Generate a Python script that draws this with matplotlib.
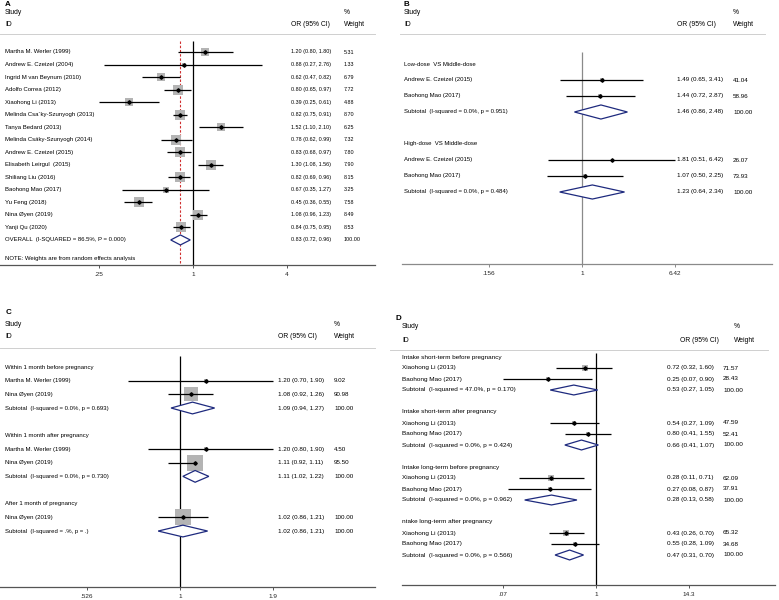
import numpy as np
import matplotlib
matplotlib.use("Agg")
import matplotlib.pyplot as plt
from matplotlib import transforms, ticker
from matplotlib.lines import Line2D

# ------------- data -----------------

# A: overall
a_study = ["Martha M. Werler (1999)", "Andrew E. Czeizel (2004)", "Ingrid M van Beynum (2010)",
           "Adolfo Correa (2012)", "Xiaohong Li (2013)", "Melinda Csa\u00b4ky-Szunyogh (2013)",
           "Tanya Bedard (2013)", "Melinda Cs\u00e1ky-Szunyogh (2014)", "Andrew E. Czeizel (2015)",
           "Elisabeth Leirgul  (2015)", "Shiliang Liu (2016)", "Baohong Mao (2017)",
           "Yu Feng (2018)", "Nina \u00d8yen (2019)", "Yanji Qu (2020)"]
a_or = [1.20, 0.88, 0.62, 0.80, 0.39, 0.82, 1.52, 0.78, 0.83, 1.30, 0.82, 0.67, 0.45, 1.08, 0.84]
a_lo = [0.80, 0.27, 0.47, 0.65, 0.25, 0.75, 1.10, 0.62, 0.68, 1.08, 0.69, 0.35, 0.36, 0.96, 0.75]
a_hi = [1.80, 2.76, 0.82, 0.97, 0.61, 0.91, 2.10, 0.99, 0.97, 1.56, 0.96, 1.27, 0.55, 1.23, 0.95]
a_wt = [5.31, 1.33, 6.79, 7.72, 4.88, 8.70, 6.25, 7.32, 7.80, 7.90, 8.15, 3.25, 7.58, 8.49, 8.53]
a_overall_label = "OVERALL  (I-SQUARED = 86.5%, P = 0.000)"
a_overall = (0.83, 0.72, 0.96)
a_note = "NOTE: Weights are from random effects analysis"
a_ticks = [0.25, 1, 4]
a_ticklabels = [".25", "1", "4"]

# B: dose
b_groups = ["Low-dose  VS Middle-dose", "High-dose  VS Middle-dose"]
b_study = ["Andrew E. Czeizel (2015)", "Baohong Mao (2017)",
           "Andrew E. Czeizel (2015)", "Baohong Mao (2017)"]
b_group_of = [0, 0, 1, 1]
b_or = [1.49, 1.44, 1.81, 1.07]
b_lo = [0.65, 0.72, 0.51, 0.50]
b_hi = [3.41, 2.87, 6.42, 2.25]
b_wt = [41.04, 58.96, 26.07, 73.93]
b_sub_het = ["(I-squared = 0.0%, p = 0.951)", "(I-squared = 0.0%, p = 0.484)"]
b_sub_or = [1.46, 1.23]
b_sub_lo = [0.86, 0.64]
b_sub_hi = [2.48, 2.34]
b_ticks = [0.156, 1, 6.42]
b_ticklabels = [".156", "1", "6.42"]

# C: timing
c_groups = ["Within 1 month before pregnancy", "Within 1 month after pregnancy",
            "After 1 month of pregnancy"]
c_study = ["Martha M. Werler (1999)", "Nina \u00d8yen (2019)", "Martha M. Werler (1999)",
           "Nina \u00d8yen (2019)", "Nina \u00d8yen (2019)"]
c_group_of = [0, 0, 1, 1, 2]
c_or = [1.20, 1.08, 1.20, 1.11, 1.02]
c_lo = [0.70, 0.92, 0.80, 0.92, 0.86]
c_hi = [1.90, 1.26, 1.90, 1.11, 1.21]
c_wt = [9.02, 90.98, 4.50, 95.50, 100.00]
c_sub_het = ["(I-squared = 0.0%, p = 0.693)", "(I-squared = 0.0%, p = 0.730)",
             "(I-squared = .%, p = .)"]
c_sub_or = [1.09, 1.11, 1.02]
c_sub_lo = [0.94, 1.02, 0.86]
c_sub_hi = [1.27, 1.22, 1.21]
c_ticks = [0.526, 1, 1.9]
c_ticklabels = [".526", "1", "1.9"]

# D: intake
d_groups = ["Intake short-term before pregnancy", "Intake short-term after pregnancy",
            "Intake long-term before pregnancy", "ntake long-term after pregnancy"]
d_study = ["Xiaohong Li (2013)", "Baohong Mao (2017)"] * 4
d_group_of = [0, 0, 1, 1, 2, 2, 3, 3]
d_or = [0.72, 0.25, 0.54, 0.80, 0.28, 0.27, 0.43, 0.55]
d_lo = [0.32, 0.07, 0.27, 0.41, 0.11, 0.08, 0.26, 0.28]
d_hi = [1.60, 0.90, 1.09, 1.55, 0.71, 0.87, 0.70, 1.09]
d_wt = [71.57, 28.43, 47.59, 52.41, 62.09, 37.91, 65.32, 34.68]
d_sub_het = ["(I-squared = 47.0%, p = 0.170)", "(I-squared = 0.0%, p = 0.424)",
             "(I-squared = 0.0%, p = 0.962)", "(I-squared = 0.0%, p = 0.566)"]
d_sub_or = [0.53, 0.66, 0.28, 0.47]
d_sub_lo = [0.27, 0.41, 0.13, 0.31]
d_sub_hi = [1.05, 1.07, 0.58, 0.70]
d_ticks = [0.07, 1, 14.3]
d_ticklabels = [".07", "1", "14.3"]

# ------------- style -----------------

W, H = 779, 600
BOX = "#b4b4b4"
NAVY = "#1e2a7e"
SEP = "#cfcfcf"

plt.rcParams['font.family'] = ['Liberation Sans', 'DejaVu Sans']


def fx(px):
    return px / W


def fy(py):
    return 1 - py / H


def ci_text(o, l, h):
    return f"{o:.2f} ({l:.2f}, {h:.2f})"


def make_axes(fig, L):
    ax = fig.add_axes([fx(L["x0"]), fy(L["yaxis"]), (L["x1"] - L["x0"]) / W,
                       (L["yaxis"] - L["ysep"]) / H])
    ax.set_xscale("log")
    ax.set_xlim(np.exp((L["x0"] - L["xc"]) / L["ppl"]), np.exp((L["x1"] - L["xc"]) / L["ppl"]))
    ax.set_ylim((L["yaxis"] - L["y0"]) / L["dy"], (L["ysep"] - L["y0"]) / L["dy"])
    for s in ["top", "left", "right"]:
        ax.spines[s].set_visible(False)
    ax.spines["bottom"].set_color(L["axcol"])
    ax.spines["bottom"].set_linewidth(0.9)
    ax.set_yticks([])
    ax.patch.set_alpha(0)
    ax.xaxis.set_minor_locator(ticker.NullLocator())
    ax.tick_params(axis="x", direction="out", length=2.2, width=0.7, color=L["axcol"],
                   labelsize=4.6, pad=3.2, labelcolor="#222222")
    # reference line at OR = 1
    rtop = (L["yvtop"] - L["y0"]) / L["dy"]
    ax.vlines(1, rtop, ax.get_ylim()[0], color=L["refcol"], lw=0.9, zorder=1)
    return ax


def headers(fig, L, letter):
    x, xo, xw = L["xlab"], L["xor_h"], L["xw_h"]
    fig.text(fx(L["xletter"]), fy(L["yletter"]), letter, fontsize=5.8, fontweight="bold", va="center")
    fig.text(fx(x), fy(L["ystudy"]), "Study", fontsize=4.9, va="center")
    fig.text(fx(x), fy(L["yid"]), "ID", fontsize=4.9, va="center")
    fig.text(fx(xo), fy(L["yid"]), "OR (95% CI)", fontsize=4.9, va="center")
    fig.text(fx(xw), fy(L["ystudy"]), "%", fontsize=4.9, va="center")
    fig.text(fx(xw), fy(L["yid"]), "Weight", fontsize=4.9, va="center")
    fig.add_artist(Line2D([fx(L["sx0"]), fx(L["sx1"])], [fy(L["ysep"]), fy(L["ysep"])],
                          transform=fig.transFigure, color=SEP, lw=0.7))


def draw_study(ax, r, o, l, h, w, k):
    ax.scatter([o], [r], marker="s", s=(k * np.sqrt(w) / 1.389) ** 2, color=BOX, lw=0, zorder=2)
    ax.plot([l, h], [r, r], color="black", lw=0.9, zorder=3, solid_capstyle="butt")
    ax.plot([o], [r], marker="D", ms=1.8, color="black", zorder=4)


def draw_diamond(ax, r, o, l, h, hh):
    ax.fill([l, o, h, o], [r, r - hh, r, r + hh], facecolor="white", edgecolor=NAVY,
            lw=0.9, zorder=3)


def grouped_rows(n_groups, group_of):
    r = 0
    head, study, sub = [], [], []
    for g in range(n_groups):
        head.append(r)
        r += 1
        for sg in group_of:
            if sg == g:
                study.append(r)
                r += 1
        sub.append(r)
        r += 2
    return head, study, sub


def grouped_panel(fig, L, letter, groups, study, group_of, ors, los, his, wts,
                  het, sor, slo, shi, ticks, ticklabels):
    ax = make_axes(fig, L)
    headers(fig, L, letter)
    tr = transforms.blended_transform_factory(fig.transFigure, ax.transData)
    head, srows, subs = grouped_rows(len(groups), group_of)
    for g, r in enumerate(head):
        ax.text(fx(L["xlab"]), r, groups[g], transform=tr, fontsize=L["fs"], va="center", clip_on=False)
    for i, r in enumerate(srows):
        draw_study(ax, r, ors[i], los[i], his[i], wts[i], L["k"])
        ax.text(fx(L["xlab"]), r, study[i], transform=tr, fontsize=L["fs"], va="center", clip_on=False)
        ax.text(fx(L["xor"]), r, ci_text(ors[i], los[i], his[i]), transform=tr,
                fontsize=L["fsn"], va="center", clip_on=False)
        ax.text(fx(L["xw"]), r, f"{wts[i]:.2f}", transform=tr, fontsize=L["fsn"],
                va="center", clip_on=False)
    for g, r in enumerate(subs):
        draw_diamond(ax, r, sor[g], slo[g], shi[g], L["dh"])
        ax.text(fx(L["xlab"]), r, "Subtotal  " + het[g], transform=tr, fontsize=L["fs"],
                va="center", clip_on=False)
        ax.text(fx(L["xor"]), r, ci_text(sor[g], slo[g], shi[g]), transform=tr,
                fontsize=L["fsn"], va="center", clip_on=False)
        ax.text(fx(L["xw"]), r, "100.00", transform=tr, fontsize=L["fsn"], va="center", clip_on=False)
    ax.set_xticks(ticks)
    ax.set_xticklabels(ticklabels)
    return ax


# ------------- layout (pixels) -----------------

LA = dict(x0=0, x1=375, xc=193, ppl=94 / np.log(4), ysep=34, yaxis=265, y0=52, dy=12.53,
          yvtop=41, xlab=5, xor=291, xw=344, xor_h=291, xw_h=344, xletter=5, yletter=4,
          ystudy=13, yid=25, sx0=0, sx1=375, axcol="#555555", refcol="black",
          fs=4.3, fsn=3.9, k=3.4, dh=0.4)
LB = dict(x0=402, x1=772, xc=582, ppl=93 / np.log(6.42), ysep=34, yaxis=264, y0=64, dy=16.0,
          yvtop=52, xlab=404, xor=677, xw=733, xor_h=677, xw_h=733, xletter=403, yletter=4,
          ystudy=13, yid=25, sx0=400, sx1=765, axcol="#8a8a8a", refcol="#8a8a8a",
          fs=4.3, fsn=4.5, k=0.55, dh=0.44)
LC = dict(x0=0, x1=375, xc=180, ppl=93 / np.log(1.9), ysep=348, yaxis=587, y0=367, dy=13.67,
          yvtop=356, xlab=5, xor=278, xw=334, xor_h=278, xw_h=334, xletter=6, yletter=313,
          ystudy=325, yid=337, sx0=0, sx1=375, axcol="#555555", refcol="black",
          fs=4.3, fsn=4.5, k=1.55, dh=0.43)
LD = dict(x0=402, x1=775, xc=596, ppl=93 / np.log(14.3), ysep=350, yaxis=585, y0=357, dy=11.0,
          yvtop=353, xlab=402, xor=667, xw=723, xor_h=680, xw_h=734, xletter=395, yletter=318,
          ystudy=327, yid=340, sx0=390, sx1=768, axcol="#555555", refcol="black",
          fs=4.6, fsn=4.6, k=0.65, dh=0.45)

# ------------- plotting -----------------

fig = plt.figure(figsize=(W / 100, H / 100), dpi=100)
fig.patch.set_facecolor("white")

# panel A
ax = make_axes(fig, LA)
headers(fig, LA, "A")
tr = transforms.blended_transform_factory(fig.transFigure, ax.transData)
for i in range(len(a_study)):
    draw_study(ax, i, a_or[i], a_lo[i], a_hi[i], a_wt[i], LA["k"])
    ax.text(fx(LA["xlab"]), i, a_study[i], transform=tr, fontsize=LA["fs"], va="center", clip_on=False)
    ax.text(fx(LA["xor"]), i, ci_text(a_or[i], a_lo[i], a_hi[i]), transform=tr,
            fontsize=LA["fsn"], va="center", clip_on=False)
    ax.text(fx(LA["xw"]), i, f"{a_wt[i]:.2f}", transform=tr, fontsize=LA["fsn"],
            va="center", clip_on=False)
r_ov = len(a_study)
draw_diamond(ax, r_ov, *a_overall, LA["dh"])
ax.text(fx(LA["xlab"]), r_ov, a_overall_label, transform=tr, fontsize=LA["fs"], va="center", clip_on=False)
ax.text(fx(LA["xor"]), r_ov, ci_text(*a_overall), transform=tr, fontsize=LA["fsn"],
        va="center", clip_on=False)
ax.text(fx(LA["xw"]), r_ov, "100.00", transform=tr, fontsize=LA["fsn"], va="center", clip_on=False)
ax.text(fx(LA["xlab"]), r_ov + 1.45, a_note, transform=tr, fontsize=LA["fs"], va="center", clip_on=False)
ax.vlines(a_overall[0], (LA["yvtop"] - LA["y0"]) / LA["dy"], ax.get_ylim()[0], color="#d03030",
          lw=0.8, linestyles=(0, (2.2, 1.6)), zorder=1)
ax.set_xticks(a_ticks)
ax.set_xticklabels(a_ticklabels)

grouped_panel(fig, LB, "B", b_groups, b_study, b_group_of, b_or, b_lo, b_hi, b_wt,
              b_sub_het, b_sub_or, b_sub_lo, b_sub_hi, b_ticks, b_ticklabels)
grouped_panel(fig, LC, "C", c_groups, c_study, c_group_of, c_or, c_lo, c_hi, c_wt,
              c_sub_het, c_sub_or, c_sub_lo, c_sub_hi, c_ticks, c_ticklabels)
grouped_panel(fig, LD, "D", d_groups, d_study, d_group_of, d_or, d_lo, d_hi, d_wt,
              d_sub_het, d_sub_or, d_sub_lo, d_sub_hi, d_ticks, d_ticklabels)

fig.savefig("out.png", dpi=100, facecolor="white")
